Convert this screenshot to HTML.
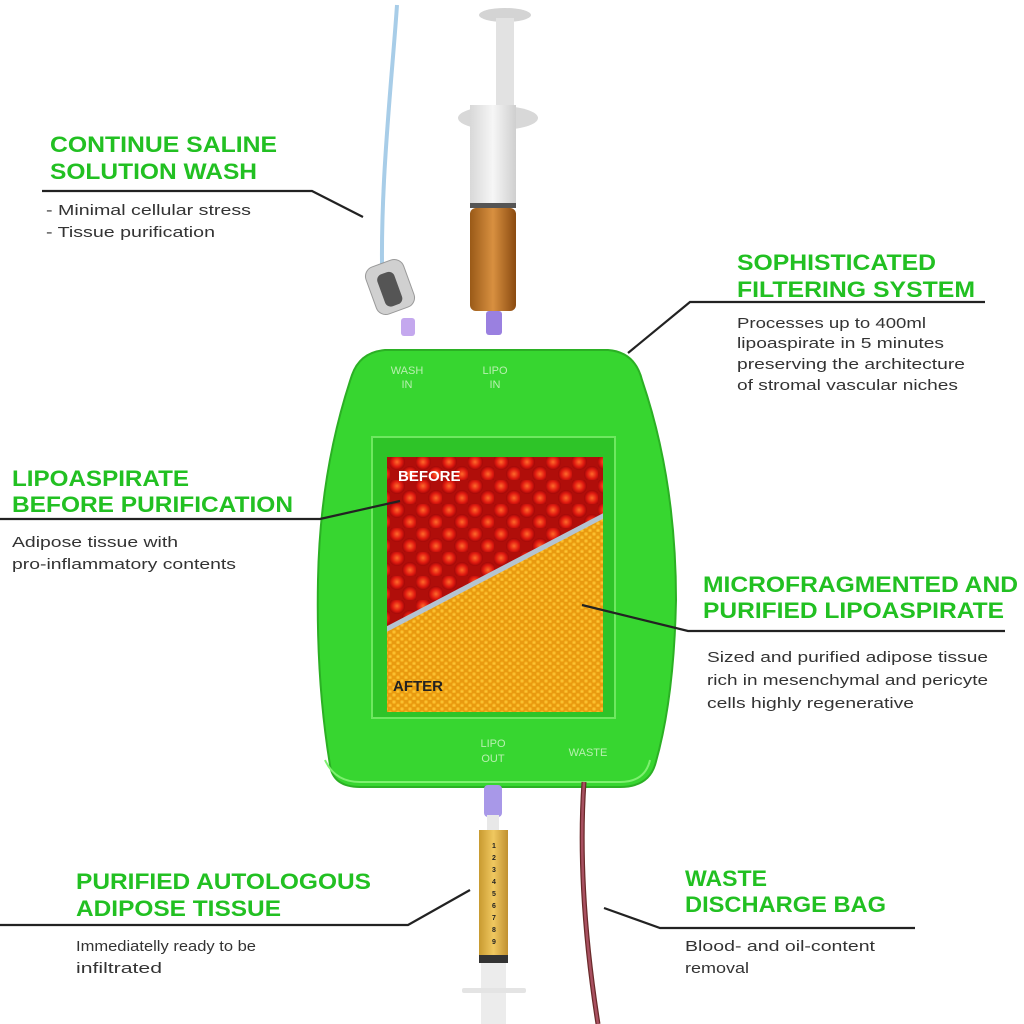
<!DOCTYPE html>
<html><head><meta charset="utf-8"><style>
html,body{margin:0;padding:0;background:#fff}
svg{display:block}
.h{font-family:"Liberation Sans",sans-serif;font-weight:bold;font-size:22px;fill:#22c022}
.b{font-family:"Liberation Sans",sans-serif;font-size:15px;fill:#333}
.l{font-family:"Liberation Sans",sans-serif;font-size:11px;fill:#b8f0b0;text-anchor:middle}
</style></head><body>
<svg width="1024" height="1024" viewBox="0 0 1024 1024" xmlns="http://www.w3.org/2000/svg">
<defs>
<radialGradient id="rg" cx="50%" cy="50%" r="50%"><stop offset="0" stop-color="#ff6a2a"/><stop offset="0.6" stop-color="#e01a10"/><stop offset="1" stop-color="#a00808"/></radialGradient>
<pattern id="red" width="26" height="24" patternUnits="userSpaceOnUse"><rect width="26" height="24" fill="#b00e0a"/><circle cx="7" cy="6" r="8" fill="url(#rg)"/><circle cx="20" cy="18" r="8" fill="url(#rg)"/></pattern>
<radialGradient id="og" cx="50%" cy="50%" r="50%"><stop offset="0" stop-color="#ffd040"/><stop offset="1" stop-color="#f0a010"/></radialGradient>
<pattern id="org" width="8" height="7" patternUnits="userSpaceOnUse"><rect width="8" height="7" fill="#e89a10"/><circle cx="2" cy="2" r="2.3" fill="url(#og)"/><circle cx="6" cy="5.5" r="2.3" fill="url(#og)"/></pattern>
<linearGradient id="syr" x1="0" x2="1"><stop offset="0" stop-color="#d8d8d8"/><stop offset="0.5" stop-color="#f6f6f6"/><stop offset="1" stop-color="#cfcfcf"/></linearGradient>
<linearGradient id="brn" x1="0" x2="1"><stop offset="0" stop-color="#9a5a18"/><stop offset="0.5" stop-color="#d89040"/><stop offset="1" stop-color="#8a4a10"/></linearGradient>
<linearGradient id="gld" x1="0" x2="1"><stop offset="0" stop-color="#c89a30"/><stop offset="0.5" stop-color="#f0c860"/><stop offset="1" stop-color="#c09030"/></linearGradient>
<clipPath id="cp"><rect x="387" y="457" width="216" height="255"/></clipPath>
</defs>

<path d="M397 5 C392 80 378 200 383 300" stroke="#a8cde8" stroke-width="4" fill="none"/>
<rect x="370" y="262" width="40" height="50" rx="10" fill="#d0d0d0" stroke="#999" transform="rotate(-20 390 287)"/>
<rect x="380" y="272" width="18" height="34" rx="6" fill="#555" transform="rotate(-20 390 287)"/>
<rect x="401" y="318" width="14" height="18" rx="3" fill="#c4a8ee"/>

<ellipse cx="505" cy="15" rx="26" ry="7" fill="#d4d4d4"/>
<rect x="496" y="18" width="18" height="90" fill="#e2e2e2"/>
<ellipse cx="498" cy="118" rx="40" ry="12" fill="#d8d8d8"/>
<rect x="470" y="105" width="46" height="100" fill="url(#syr)"/>
<rect x="470" y="203" width="46" height="5" fill="#555"/>
<rect x="470" y="208" width="46" height="103" rx="6" fill="url(#brn)"/>
<rect x="486" y="311" width="16" height="24" rx="3" fill="#9a80e0"/>

<path d="M385 350 L608 350 Q635 352 642 380 Q676 480 676 600 Q674 700 655 765 Q648 787 620 787 L360 787 Q333 787 330 765 Q316 680 318 580 Q320 470 352 375 Q360 352 385 350 Z" fill="#37d630" stroke="#2bb024" stroke-width="2"/>
<path d="M325 760 Q335 782 360 782 L620 782 Q645 782 650 760" stroke="#7ef070" stroke-width="2" fill="none"/>
<text class="l" x="407" y="374">WASH</text><text class="l" x="407" y="388">IN</text>
<text class="l" x="495" y="374">LIPO</text><text class="l" x="495" y="388">IN</text>
<text class="l" x="493" y="747">LIPO</text><text class="l" x="493" y="762">OUT</text>
<text class="l" x="588" y="756">WASTE</text>
<rect x="372" y="437" width="243" height="281" fill="#2ec428" stroke="#6ee860" stroke-width="2"/>
<g clip-path="url(#cp)">
<rect x="387" y="457" width="216" height="255" fill="url(#org)"/>
<polygon points="387,457 603,457 603,515 387,630" fill="url(#red)"/>
<line x1="385" y1="630" x2="605" y2="515" stroke="#b4c4d2" stroke-width="5"/>
</g>
<text x="398" y="481" font-family="Liberation Sans,sans-serif" font-weight="bold" font-size="15" fill="#fff">BEFORE</text>
<text x="393" y="691" font-family="Liberation Sans,sans-serif" font-weight="bold" font-size="15" fill="#222">AFTER</text>

<rect x="484" y="785" width="18" height="32" rx="4" fill="#a898e8"/>
<rect x="487" y="815" width="12" height="16" fill="#e8e8e8"/>
<rect x="479" y="830" width="29" height="128" fill="url(#gld)"/>
<g font-family="Liberation Sans,sans-serif" font-size="7" font-weight="bold" fill="#222">
<text x="492" y="848">1</text><text x="492" y="860">2</text><text x="492" y="872">3</text><text x="492" y="884">4</text><text x="492" y="896">5</text><text x="492" y="908">6</text><text x="492" y="920">7</text><text x="492" y="932">8</text><text x="492" y="944">9</text></g>
<rect x="479" y="955" width="29" height="8" fill="#333"/>
<rect x="481" y="963" width="25" height="61" fill="#ececec"/>
<rect x="462" y="988" width="64" height="5" rx="2" fill="#e4e4e4"/>

<path d="M584 782 C578 870 588 960 598 1024" stroke="#6a2a2a" stroke-width="5" fill="none"/>
<path d="M584 782 C578 870 588 960 598 1024" stroke="#a85060" stroke-width="2.5" fill="none"/>

<g stroke="#222" stroke-width="2.2" fill="none">
<polyline points="42,191 312,191 363,217"/>
<polyline points="985,302 690,302 628,353"/>
<polyline points="0,519 320,519 400,501"/>
<polyline points="1005,631 688,631 582,605"/>
<polyline points="0,925 408,925 470,890"/>
<polyline points="915,928 660,928 604,908"/>
</g>

<g lengthAdjust="spacingAndGlyphs">
<text class="h" x="50" y="152" textLength="227" lengthAdjust="spacingAndGlyphs">CONTINUE SALINE</text>
<text class="h" x="50" y="179" textLength="207" lengthAdjust="spacingAndGlyphs">SOLUTION WASH</text>
<text class="b" x="46" y="215" textLength="205" lengthAdjust="spacingAndGlyphs">- Minimal cellular stress</text>
<text class="b" x="46" y="237" textLength="169" lengthAdjust="spacingAndGlyphs">- Tissue purification</text>

<text class="h" x="737" y="270" textLength="199" lengthAdjust="spacingAndGlyphs">SOPHISTICATED</text>
<text class="h" x="737" y="297" textLength="238" lengthAdjust="spacingAndGlyphs">FILTERING SYSTEM</text>
<text class="b" x="737" y="328" textLength="189" lengthAdjust="spacingAndGlyphs">Processes up to 400ml</text>
<text class="b" x="737" y="348" textLength="207" lengthAdjust="spacingAndGlyphs">lipoaspirate in 5 minutes</text>
<text class="b" x="737" y="369" textLength="228" lengthAdjust="spacingAndGlyphs">preserving the architecture</text>
<text class="b" x="737" y="390" textLength="221" lengthAdjust="spacingAndGlyphs">of stromal vascular niches</text>

<text class="h" x="12" y="486" textLength="177" lengthAdjust="spacingAndGlyphs">LIPOASPIRATE</text>
<text class="h" x="12" y="512" textLength="281" lengthAdjust="spacingAndGlyphs">BEFORE PURIFICATION</text>
<text class="b" x="12" y="547" textLength="166" lengthAdjust="spacingAndGlyphs">Adipose tissue with</text>
<text class="b" x="12" y="569" textLength="224" lengthAdjust="spacingAndGlyphs">pro-inflammatory contents</text>

<text class="h" x="703" y="592" textLength="315" lengthAdjust="spacingAndGlyphs">MICROFRAGMENTED AND</text>
<text class="h" x="703" y="618" textLength="301" lengthAdjust="spacingAndGlyphs">PURIFIED LIPOASPIRATE</text>
<text class="b" x="707" y="662" textLength="281" lengthAdjust="spacingAndGlyphs">Sized and purified adipose tissue</text>
<text class="b" x="707" y="685" textLength="281" lengthAdjust="spacingAndGlyphs">rich in mesenchymal and pericyte</text>
<text class="b" x="707" y="708" textLength="207" lengthAdjust="spacingAndGlyphs">cells highly regenerative</text>

<text class="h" x="76" y="889" textLength="295" lengthAdjust="spacingAndGlyphs">PURIFIED AUTOLOGOUS</text>
<text class="h" x="76" y="916" textLength="205" lengthAdjust="spacingAndGlyphs">ADIPOSE TISSUE</text>
<text class="b" x="76" y="951" textLength="180" lengthAdjust="spacingAndGlyphs">Immediatelly ready to be</text>
<text class="b" x="76" y="973" textLength="86" lengthAdjust="spacingAndGlyphs">infiltrated</text>

<text class="h" x="685" y="886" textLength="82" lengthAdjust="spacingAndGlyphs">WASTE</text>
<text class="h" x="685" y="912" textLength="201" lengthAdjust="spacingAndGlyphs">DISCHARGE BAG</text>
<text class="b" x="685" y="951" textLength="190" lengthAdjust="spacingAndGlyphs">Blood- and oil-content</text>
<text class="b" x="685" y="973" textLength="64" lengthAdjust="spacingAndGlyphs">removal</text>
</g>
</svg>
</body></html>
